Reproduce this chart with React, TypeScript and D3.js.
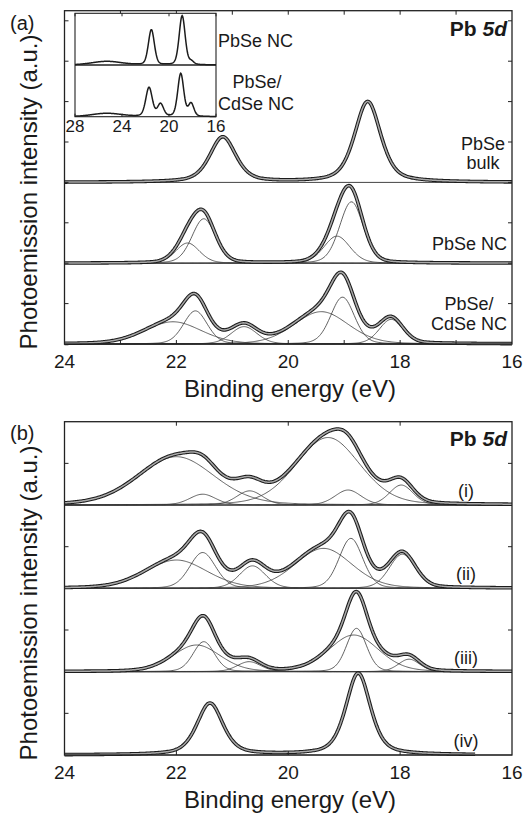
import React from 'react';
import * as d3 from 'd3';

// Each peak: [center (eV), height (a.u.), FWHM (eV)]
type Peak = [number, number, number];

// ---- Panel (a): Pb 5d spectra (offset baselines 4, 2, 0) ----
const bulkPeaks: Peak[] = [[18.58, 2.0, 0.55], [21.17, 1.12, 0.55]];
const ncPeaks: Peak[] = [[21.8, 0.5, 0.5], [21.51, 1.1, 0.5], [19.13, 0.67, 0.55], [18.87, 1.52, 0.5]];
const coreShellPeaks: Peak[] = [
  [22.06, 0.55, 1.2], [21.66, 0.82, 0.5], [20.79, 0.43, 0.55],
  [19.41, 0.8, 1.15], [19.03, 1.16, 0.5], [18.16, 0.61, 0.5],
];
const panelAOffsets = [4, 2, 0];

// ---- Inset of panel (a): wide scan (offset baselines 1, 0) ----
const insetNcPeaks: Peak[] = [[25.3, 0.07, 3.0], [21.5, 0.68, 0.6], [18.88, 0.95, 0.6], [18.1, 0.06, 0.5]];
const insetCoreShellPeaks: Peak[] = [
  [25.3, 0.065, 3.0], [21.7, 0.56, 0.65], [20.72, 0.24, 0.6],
  [19.0, 0.83, 0.6], [18.12, 0.25, 0.55],
];
const insetTicks = [28, 24, 20, 16];

// ---- Panel (b): Pb 5d spectra (i)–(iv), offset baselines 3, 2, 1, 0 ----
const specIPeaks: Peak[] = [
  [22.0, 0.58, 1.6], [21.53, 0.13, 0.55], [20.69, 0.17, 0.55],
  [19.29, 0.81, 1.35], [18.93, 0.18, 0.55], [17.98, 0.24, 0.5],
];
const specIIPeaks: Peak[] = [
  [22.0, 0.34, 1.3], [21.53, 0.43, 0.55], [20.64, 0.27, 0.55],
  [19.37, 0.48, 1.2], [18.88, 0.6, 0.5], [17.96, 0.41, 0.55],
];
const specIIIPeaks: Peak[] = [
  [21.64, 0.32, 1.0], [21.51, 0.36, 0.45], [20.7, 0.12, 0.5],
  [18.83, 0.44, 1.05], [18.78, 0.52, 0.42], [17.84, 0.15, 0.45],
];
const specIVPeaks: Peak[] = [[21.4, 0.62, 0.55], [18.75, 0.98, 0.52]];
const panelBOffsets = [3, 2, 1, 0];
const panelBLabels = ['(i)', '(ii)', '(iii)', '(iv)'];

const xTickLabels = [24, 22, 20, 18, 16];
const panelAXMinor = [23, 22, 21, 20, 19, 18, 17];
const panelAYTicks = [1, 2, 3, 4, 5, 6, 7, 8];
const panelBXMinor = [22, 20, 18];
const panelBYTicks = [0.5, 1.5, 2.5, 3.5];

const FONT = '"Liberation Sans", Arial, Helvetica, sans-serif';

function pv(e: number, p: Peak, eta: number) {
  const t = (e - p[0]) / p[2];
  return p[1] * (eta / (1 + 4 * t * t) + (1 - eta) * Math.exp(-4 * Math.LN2 * t * t));
}

const L = 64.5, R = 512;
const x = d3.scaleLinear().domain([24, 16]).range([L, R]);
const yA = d3.scaleLinear().domain([0, 8.25]).range([344, 10.7]);
const yB = d3.scaleLinear().domain([0, 4]).range([755, 421.7]);
const grid = d3.range(16, 24.0001, 0.02);
const xi = d3.scaleLinear().domain([28, 16]).range([75, 216]);
const yi = d3.scaleLinear().domain([0, 2]).range([116.7, 13.3]);
const gridInset = d3.range(16, 28.0001, 0.04);

function totalPath(peaks: Peak[], off: number, eta: number, xs: any, ys: any, g: number[]) {
  const ln = d3.line<number>().x((e) => xs(e)).y((e) => ys(off + d3.sum(peaks, (p) => pv(e, p, eta))));
  return ln(g) || '';
}
function compPath(p: Peak, off: number, eta: number, xs: any, ys: any, g: number[]) {
  const ln = d3.line<number>().x((e) => xs(e)).y((e) => ys(off + pv(e, p, eta)));
  return ln(g) || '';
}

function Thick({ d }: { d: string }) {
  return (
    <g fill="none" strokeLinejoin="round">
      <path d={d} stroke="#1c1c1c" strokeWidth={3.6} />
      <path d={d} stroke="#a9a9a9" strokeWidth={1.5} />
    </g>
  );
}

function Frame({ ys, top, bottom, xMinor, yTicks }: any) {
  const t = 4;
  return (
    <g stroke="#222" fill="none">
      <rect x={L} y={top} width={R - L} height={bottom - top} strokeWidth={1.3} />
      {xMinor.map((v: number) => (
        <g key={'x' + v}>
          <line x1={x(v)} x2={x(v)} y1={bottom} y2={bottom - t} strokeWidth={1} />
          <line x1={x(v)} x2={x(v)} y1={top} y2={top + t} strokeWidth={1} />
        </g>
      ))}
      {yTicks.map((v: number) => (
        <g key={'y' + v}>
          <line x1={L} x2={L + t} y1={ys(v)} y2={ys(v)} strokeWidth={1} />
          <line x1={R} x2={R - t} y1={ys(v)} y2={ys(v)} strokeWidth={1} />
        </g>
      ))}
    </g>
  );
}

function XAxisText({ bottom }: { bottom: number }) {
  return (
    <g fontFamily={FONT} fill="#1a1a1a">
      {xTickLabels.map((v) => (
        <text key={v} x={x(v)} y={bottom + 24} fontSize={19} textAnchor="middle">{v}</text>
      ))}
      <text x={290} y={bottom + 53} fontSize={24} textAnchor="middle">Binding energy (eV)</text>
    </g>
  );
}

export default function App() {
  const specA = [bulkPeaks, ncPeaks, coreShellPeaks];
  const specB = [specIPeaks, specIIPeaks, specIIIPeaks, specIVPeaks];
  const gridIV = grid.filter((e) => e >= 16.65);
  return (
    <svg width={531} height={815} style={{ position: 'absolute', left: 0, top: 0, background: '#fff' }}>
      {/* ---------- Panel (a) ---------- */}
      <g>
        {panelAOffsets.map((o) => (
          <line key={o} x1={L} x2={R} y1={yA(o)} y2={yA(o)} stroke="#444" strokeWidth={1} />
        ))}
        {specA.map((peaks, i) =>
          i === 0
            ? null
            : peaks.map((p, j) => (
                <path key={i + '-' + j} d={compPath(p, panelAOffsets[i], 0.2, x, yA, grid)} fill="none" stroke="#3a3a3a" strokeWidth={0.8} />
              ))
        )}
        {specA.map((peaks, i) => (
          <Thick key={'t' + i} d={totalPath(peaks, panelAOffsets[i], i === 0 ? 0.5 : 0.2, x, yA, grid)} />
        ))}
        <Frame ys={yA} top={10.7} bottom={344} xMinor={panelAXMinor} yTicks={panelAYTicks} />

        {/* inset */}
        <rect x={75} y={13.3} width={141} height={103.4} fill="#fff" stroke="#222" strokeWidth={1.1} />
        <line x1={75} x2={216} y1={yi(1)} y2={yi(1)} stroke="#222" strokeWidth={1.3} />
        <path d={totalPath(insetNcPeaks, 1, 0.25, xi, yi, gridInset)} fill="none" stroke="#1c1c1c" strokeWidth={1.5} />
        <path d={totalPath(insetCoreShellPeaks, 0, 0.25, xi, yi, gridInset)} fill="none" stroke="#1c1c1c" strokeWidth={1.5} />
        {insetTicks.map((v) => (
          <g key={'it' + v}>
            <line x1={xi(v)} x2={xi(v)} y1={116.7} y2={113.7} stroke="#222" />
            <line x1={xi(v)} x2={xi(v)} y1={13.3} y2={16.3} stroke="#222" />
          </g>
        ))}
        <g fontFamily={FONT} fill="#1a1a1a">
          {insetTicks.map((v) => (
            <text key={'il' + v} x={xi(v)} y={131.5} fontSize={17} textAnchor="middle">{v}</text>
          ))}
          <text x={218} y={47} fontSize={18}>PbSe NC</text>
          <text x={257} y={88} fontSize={18} textAnchor="middle">PbSe/</text>
          <text x={256} y={110} fontSize={18} textAnchor="middle">CdSe NC</text>

          <text x={483} y={150} fontSize={18} textAnchor="middle">PbSe</text>
          <text x={483} y={169} fontSize={18} textAnchor="middle">bulk</text>
          <text x={507} y={250} fontSize={18} textAnchor="end">PbSe NC</text>
          <text x={469} y={310} fontSize={18} textAnchor="middle">PbSe/</text>
          <text x={469} y={330} fontSize={18} textAnchor="middle">CdSe NC</text>

          <text x={507} y={36} fontSize={21} fontWeight="bold" textAnchor="end">
            Pb <tspan fontStyle="italic">5d</tspan>
          </text>
          <text x={10} y={30} fontSize={20}>(a)</text>
          <text transform="translate(37,192) rotate(-90)" fontSize={24} textAnchor="middle">Photoemission intensity (a.u.)</text>
        </g>
        <XAxisText bottom={344} />
      </g>

      {/* ---------- Panel (b) ---------- */}
      <g>
        {panelBOffsets.map((o) => (
          <line key={o} x1={L} x2={R} y1={yB(o)} y2={yB(o)} stroke="#444" strokeWidth={1} />
        ))}
        {specB.map((peaks, i) =>
          i === 3
            ? null
            : peaks.map((p, j) => (
                <path key={i + '-' + j} d={compPath(p, panelBOffsets[i], 0.2, x, yB, grid)} fill="none" stroke="#3a3a3a" strokeWidth={0.8} />
              ))
        )}
        {specB.map((peaks, i) => (
          <Thick key={'t' + i} d={totalPath(peaks, panelBOffsets[i], i === 3 ? 0.5 : 0.2, x, yB, i === 3 ? gridIV : grid)} />
        ))}
        <Frame ys={yB} top={421.7} bottom={755} xMinor={panelBXMinor} yTicks={panelBYTicks} />
        <g fontFamily={FONT} fill="#1a1a1a">
          {panelBLabels.map((s, i) => (
            <text key={s} x={466} y={yB(panelBOffsets[i]) - 8} fontSize={18} textAnchor="middle">{s}</text>
          ))}
          <text x={507} y={446} fontSize={21} fontWeight="bold" textAnchor="end">
            Pb <tspan fontStyle="italic">5d</tspan>
          </text>
          <text x={10} y={440} fontSize={20}>(b)</text>
          <text transform="translate(37,603) rotate(-90)" fontSize={24} textAnchor="middle">Photoemission intensity (a.u.)</text>
        </g>
        <XAxisText bottom={755} />
      </g>
    </svg>
  );
}
